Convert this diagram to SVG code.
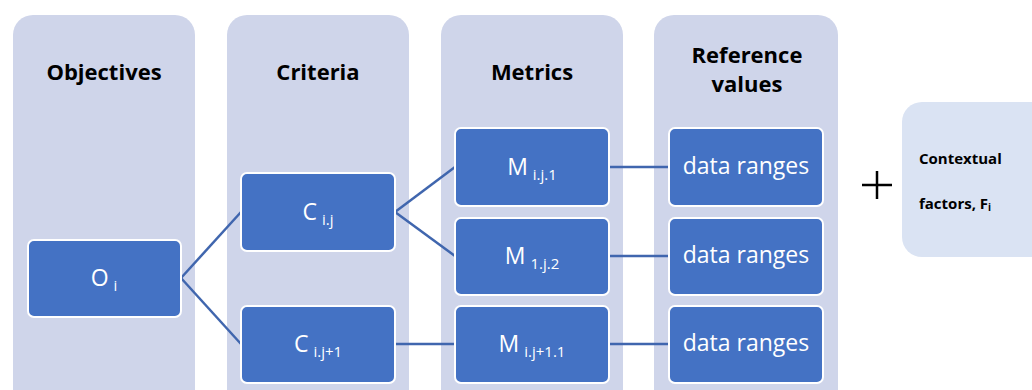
<svg xmlns="http://www.w3.org/2000/svg" width="1032" height="390" viewBox="0 0 1032 390">
  <style>
    .panel { fill: #CFD5EA; }
    .ctx { fill: #DAE3F3; }
    .node rect { fill: #4472C4; stroke: #FFFFFF; stroke-width: 2; }
    .title { font-family: "Open Sans", "Liberation Sans", sans-serif; font-weight: bold; font-size: 22px; fill: #000000; text-anchor: middle; }
    .lbl { font-family: "Open Sans", "Liberation Sans", sans-serif; font-size: 23px; fill: #FFFFFF; text-anchor: middle; }
    .sub { font-size: 15px; }
    .ctxt { font-family: "Open Sans", "Liberation Sans", sans-serif; font-weight: bold; font-size: 15px; fill: #000000; }
    .conn line { stroke: #4066AE; stroke-width: 2.5; fill: none; }
  </style>

  <!-- column backgrounds -->
  <g id="col-objectives">
    <rect class="panel" x="13" y="15" width="182" height="400" rx="20"/>
    <text class="title" x="104" y="80">Objectives</text>
  </g>
  <g id="col-criteria">
    <rect class="panel" x="227" y="15" width="182" height="400" rx="20"/>
    <text class="title" x="318" y="80">Criteria</text>
  </g>
  <g id="col-metrics">
    <rect class="panel" x="441" y="15" width="182" height="400" rx="20"/>
    <text class="title" x="532" y="80">Metrics</text>
  </g>
  <g id="col-reference">
    <rect class="panel" x="654" y="15" width="184" height="400" rx="20"/>
    <text class="title" x="747" y="63">Reference</text>
    <text class="title" x="747" y="92">values</text>
  </g>

  <!-- connectors -->
  <g id="connectors" class="conn">
    <line x1="181" y1="278" x2="241" y2="212"/>
    <line x1="181" y1="278" x2="241" y2="344"/>
    <line x1="395" y1="212" x2="455" y2="167"/>
    <line x1="395" y1="212" x2="455" y2="256"/>
    <line x1="395" y1="344" x2="455" y2="344"/>
    <line x1="609" y1="167" x2="669" y2="167"/>
    <line x1="609" y1="256" x2="669" y2="256"/>
    <line x1="609" y1="344" x2="669" y2="344"/>
  </g>

  <!-- objective -->
  <g id="node-o-i" class="node">
    <rect x="28" y="240" width="153" height="77" rx="6"/>
    <text class="lbl" x="104" y="286">O<tspan class="sub" dx="5" dy="5">i</tspan></text>
  </g>

  <!-- criteria -->
  <g id="node-c-ij" class="node">
    <rect x="241" y="173" width="154" height="78" rx="6"/>
    <text class="lbl" x="318" y="220">C<tspan class="sub" dx="5" dy="5">i.j</tspan></text>
  </g>
  <g id="node-c-ij1" class="node">
    <rect x="241" y="306" width="154" height="77" rx="6"/>
    <text class="lbl" x="318" y="352">C<tspan class="sub" dx="5" dy="5">i.j+1</tspan></text>
  </g>

  <!-- metrics -->
  <g id="node-m-ij1" class="node">
    <rect x="455" y="128" width="154" height="78" rx="6"/>
    <text class="lbl" x="532" y="175">M<tspan class="sub" dx="5" dy="5">i.j.1</tspan></text>
  </g>
  <g id="node-m-1j2" class="node">
    <rect x="455" y="218" width="154" height="77" rx="6"/>
    <text class="lbl" x="532" y="264">M<tspan class="sub" dx="5" dy="5">1.j.2</tspan></text>
  </g>
  <g id="node-m-ij11" class="node">
    <rect x="455" y="306" width="154" height="77" rx="6"/>
    <text class="lbl" x="532" y="352">M<tspan class="sub" dx="5" dy="5">i.j+1.1</tspan></text>
  </g>

  <!-- reference values -->
  <g id="node-r1" class="node">
    <rect x="669" y="128" width="154" height="78" rx="6"/>
    <text class="lbl" x="746" y="174">data ranges</text>
  </g>
  <g id="node-r2" class="node">
    <rect x="669" y="218" width="154" height="77" rx="6"/>
    <text class="lbl" x="746" y="263">data ranges</text>
  </g>
  <g id="node-r3" class="node">
    <rect x="669" y="306" width="154" height="77" rx="6"/>
    <text class="lbl" x="746" y="351">data ranges</text>
  </g>

  <!-- plus sign -->
  <g id="plus" stroke="#000000" stroke-width="2.5">
    <line x1="862" y1="185" x2="892" y2="185"/>
    <line x1="877" y1="171" x2="877" y2="199"/>
  </g>

  <!-- contextual factors -->
  <g id="node-context">
    <rect class="ctx" x="902" y="102" width="150" height="155" rx="20"/>
    <text class="ctxt" x="919" y="164">Contextual</text>
    <text class="ctxt" x="919" y="209">factors, F<tspan font-size="10" dy="2">i</tspan></text>
  </g>
</svg>
